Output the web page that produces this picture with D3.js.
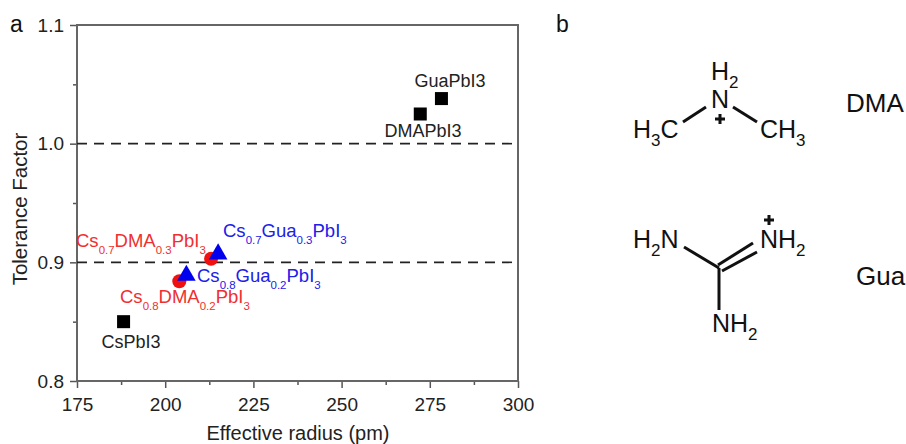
<!DOCTYPE html>
<html>
<head>
<meta charset="utf-8">
<script src="https://cdn.jsdelivr.net/npm/d3@7"></script>
<style>
html, body { margin: 0; padding: 0; background: #fff; }
svg { display: block; }
text { font-family: "Liberation Sans", Arial, sans-serif; }
.frame { stroke: #666; stroke-width: 2; fill: none; }
.axis path { display: none; }
.axis line { stroke: #555; stroke-width: 1.5; }
.axis text { font-size: 19px; fill: #222; }
</style>
</head>
<body>
<svg id="chart" width="906" height="444"></svg>
<script>
const xTicks = [175, 200, 225, 250, 275, 300];
const xMinorTicks = [187.5, 212.5, 237.5, 262.5, 287.5];
const yTicks = [0.8, 0.9, 1.0, 1.1];
const yMinorTicks = [0.85, 0.95, 1.05];
const refLines = [0.9, 1.0];

const squareRadius = [188.2, 272.3, 278.3];
const squareFactor = [0.85, 1.025, 1.038];
const circleRadius = [204, 213];
const circleFactor = [0.884, 0.903];
const triangleRadius = [206, 215];
const triangleFactor = [0.889, 0.907];

const margin = { top: 25, left: 77, right: 388, bottom: 63 };
const width = 906, height = 444;

const x = d3.scaleLinear().domain([175, 300]).range([margin.left, width - margin.right]);
const y = d3.scaleLinear().domain([0.8, 1.1]).range([height - margin.bottom, margin.top]);

const svg = d3.select('#chart');

function sub(parent, px, py, parts, size, color, anchor, subScale = 0.68, drop = 0.3) {
    const t = parent.append('text')
        .attr('x', px).attr('y', py)
        .attr('font-size', size)
        .attr('fill', color)
        .attr('text-anchor', anchor || 'start');
    parts.forEach(([str, isSub], i) => {
        const s = t.append('tspan').text(str);
        if (isSub) {
            s.attr('dy', size * drop).attr('font-size', size * subScale);
        } else if (i > 0 && parts[i - 1][1]) {
            s.attr('dy', -size * drop);
        }
    });
    return t;
}

// axes
svg.append('g').attr('class', 'axis')
    .attr('transform', `translate(0,${y(0.8)})`)
    .call(d3.axisBottom(x).tickValues(xTicks).tickFormat(d3.format('d')).tickSize(7).tickPadding(10));
svg.append('g').attr('class', 'axis')
    .attr('transform', `translate(0,${y(0.8)})`)
    .call(d3.axisBottom(x).tickValues(xMinorTicks).tickFormat('').tickSize(4));
svg.append('g').attr('class', 'axis')
    .attr('transform', `translate(${x(175)},0)`)
    .call(d3.axisLeft(y).tickValues(yTicks).tickFormat(d3.format('.1f')).tickSize(7).tickPadding(6));
svg.append('g').attr('class', 'axis')
    .attr('transform', `translate(${x(175)},0)`)
    .call(d3.axisLeft(y).tickValues(yMinorTicks).tickFormat('').tickSize(4));

svg.append('rect').attr('class', 'frame')
    .attr('x', x(175)).attr('y', y(1.1))
    .attr('width', x(300) - x(175)).attr('height', y(0.8) - y(1.1));

svg.selectAll('.ref').data(refLines).join('line')
    .attr('class', 'ref')
    .attr('x1', x(175)).attr('x2', x(300))
    .attr('y1', d => y(d)).attr('y2', d => y(d))
    .attr('stroke', '#222').attr('stroke-width', 1.6)
    .attr('stroke-dasharray', '10 7');

svg.append('text').attr('x', 298).attr('y', 439.5)
    .attr('text-anchor', 'middle').attr('font-size', 20).attr('fill', '#222')
    .text('Effective radius (pm)');
svg.append('text').attr('transform', 'translate(27,209) rotate(-90)')
    .attr('text-anchor', 'middle').attr('font-size', 20.5).attr('fill', '#222')
    .text('Tolerance Factor');

// markers
svg.selectAll('.sq').data(squareRadius).join('rect')
    .attr('class', 'sq')
    .attr('x', d => x(d) - 6.5)
    .attr('y', (d, i) => y(squareFactor[i]) - 6.5)
    .attr('width', 13).attr('height', 13).attr('fill', '#000');
svg.selectAll('.ci').data(circleRadius).join('circle')
    .attr('class', 'ci')
    .attr('cx', d => x(d))
    .attr('cy', (d, i) => y(circleFactor[i]))
    .attr('r', 7).attr('fill', '#f01010');
const tri = d3.symbol().type(d3.symbolTriangle).size(150);
svg.selectAll('.tr').data(triangleRadius).join('path')
    .attr('class', 'tr')
    .attr('d', tri)
    .attr('transform', (d, i) => `translate(${x(d)},${y(triangleFactor[i])})`)
    .attr('fill', '#0000ee');

// point labels
const lab = svg.append('g');
const labelSize = 18;
const formulaSize = 18.5;
sub(lab, 131, 348, [['CsPbI3']], labelSize, '#222', 'middle');
sub(lab, 423, 137, [['DMAPbI3']], labelSize, '#222', 'middle');
sub(lab, 450, 87, [['GuaPbI3']], labelSize, '#222', 'middle');
const red = '#f03030', blue = '#2020e8';
sub(lab, 76, 247, [['Cs'], ['0.7', 1], ['DMA'], ['0.3', 1], ['PbI'], ['3', 1]], formulaSize, red, 'start', 0.62, 0.38);
sub(lab, 120, 303, [['Cs'], ['0.8', 1], ['DMA'], ['0.2', 1], ['PbI'], ['3', 1]], formulaSize, red, 'start', 0.62, 0.38);
sub(lab, 223, 237, [['Cs'], ['0.7', 1], ['Gua'], ['0.3', 1], ['PbI'], ['3', 1]], formulaSize, blue, 'start', 0.62, 0.38);
sub(lab, 197, 282, [['Cs'], ['0.8', 1], ['Gua'], ['0.2', 1], ['PbI'], ['3', 1]], formulaSize, blue, 'start', 0.62, 0.38);

// panel letters
svg.append('text').attr('x', 10).attr('y', 32).attr('font-size', 23).attr('fill', '#111').text('a');
svg.append('text').attr('x', 556).attr('y', 32).attr('font-size', 23).attr('fill', '#111').text('b');

// molecule structures in panel b
const mol = svg.append('g');
const bonds = [
    [683, 122, 706, 107], [733, 107, 757, 122],
    [684, 247, 719, 268], [719, 268, 719, 310],
    [718, 265, 753, 243], [722, 271, 757, 252]
];
mol.selectAll('line').data(bonds).join('line')
    .attr('x1', d => d[0]).attr('y1', d => d[1])
    .attr('x2', d => d[2]).attr('y2', d => d[3])
    .attr('stroke', '#111').attr('stroke-width', 3);

const molSize = 25;
sub(mol, 711, 80, [['H'], ['2', 1]], molSize, '#111');
sub(mol, 711, 108, [['N']], molSize, '#111');
sub(mol, 633, 138, [['H'], ['3', 1], ['C']], molSize, '#111');
sub(mol, 760, 138, [['CH'], ['3', 1]], molSize, '#111');
sub(mol, 633, 248, [['H'], ['2', 1], ['N']], molSize, '#111');
sub(mol, 760, 248, [['NH'], ['2', 1]], molSize, '#111');
sub(mol, 712, 332, [['NH'], ['2', 1]], molSize, '#111');
sub(mol, 846, 112, [['DMA']], 26, '#111');
sub(mol, 856, 285, [['Gua']], 26, '#111');

const plus = [[720, 119], [769, 220]];
plus.forEach(([px, py]) => {
    mol.append('path')
        .attr('d', `M${px - 5},${py}H${px + 5}M${px},${py - 5}V${py + 5}`)
        .attr('stroke', '#111').attr('stroke-width', 3).attr('fill', 'none');
});
</script>
</body>
</html>
